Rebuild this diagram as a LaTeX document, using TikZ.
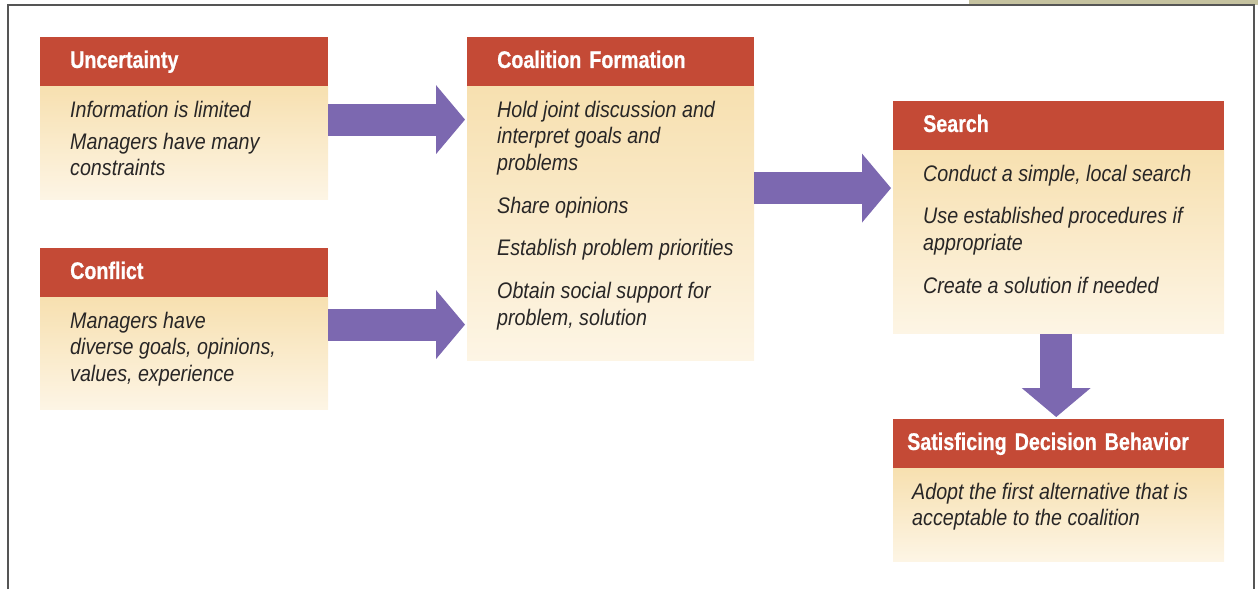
\documentclass[tikz,border=0pt]{standalone}
\usepackage{fontspec}
\setmainfont{Liberation Sans}[FakeStretch=0.875]
\newfontfamily\headfont{Liberation Sans Bold}[FakeStretch=0.82, FakeBold=0.6, WordSpace=0.8]
\usepackage{xcolor}
\usetikzlibrary{arrows.meta,positioning}
\definecolor{hdred}{RGB}{196,74,54}
\definecolor{bodytop}{RGB}{247,224,176}
\definecolor{bodybot}{RGB}{253,245,229}
\definecolor{arrpurple}{RGB}{124,104,176}
\definecolor{txtgray}{RGB}{40,38,38}
\definecolor{framegray}{RGB}{85,85,85}
\definecolor{tanband}{RGB}{197,194,159}

\begin{document}
\begin{tikzpicture}[
  x=1pt, y=-1pt,
  head/.style={rectangle, fill=hdred, anchor=north west, minimum height=49pt,
    inner xsep=30pt, text height=17.5pt, text depth=5pt, align=left,
    text=white, font=\headfont\fontsize{24}{28}\selectfont},
  body/.style={rectangle, inner sep=0pt, top color=bodytop, bottom color=bodybot},
  bodytxt/.style={inner sep=0pt, anchor=north west, align=left, text=txtgray,
    font=\itshape\fontsize{22.5}{26.5}\selectfont},
  fat/.style={draw=arrpurple, line width=32pt, shorten >=2pt,
    -{Triangle[length=29pt, width=69pt, line width=0pt]}}
]
  \useasboundingbox (0,0) rectangle (1258,589);
  % frame
  \fill[tanband] (969,0) rectangle (1258,5);
  \draw[framegray, line width=1.5pt] (8,589) -- (8,5) -- (1254,5) -- (1254,589);

  % boxes
  \node[head, text width=228pt] (unc) at (40,37) {Uncertainty};
  \node[body, minimum width=288pt, minimum height=113pt, below=0pt of unc] (uncBody) {};
  \node[bodytxt, below right=12pt and 30pt of uncBody.north west] (uncText)
    {\strut Information is limited\\[5.5pt] Managers have many\\ constraints};

  \node[head, text width=228pt] (conf) at (40,248) {Conflict};
  \node[body, minimum width=288pt, minimum height=112pt, below=0pt of conf] (confBody) {};
  \node[bodytxt, below right=12pt and 30pt of confBody.north west] (confText)
    {\strut Managers have\\ diverse goals, opinions,\\ values, experience};

  \node[head, text width=227pt] (coal) at (467,37) {Coalition Formation};
  \node[body, minimum width=287pt, minimum height=274pt, below=0pt of coal] (coalBody) {};
  \node[bodytxt, below right=12pt and 30pt of coalBody.north west] (coalText)
    {\strut Hold joint discussion and\\ interpret goals and\\ problems\\[16.5pt]
     Share opinions\\[16pt] Establish problem priorities\\[16.5pt]
     Obtain social support for\\ problem, solution};

  \node[head, text width=271pt] (srch) at (893,101) {Search};
  \node[body, minimum width=331pt, minimum height=183pt, below=0pt of srch] (srchBody) {};
  \node[bodytxt, below right=12pt and 30pt of srchBody.north west] (srchText)
    {\strut Conduct a simple, local search\\[16pt] Use established procedures if\\
     appropriate\\[16.5pt] Create a solution if needed};

  \node[head, text width=303pt, inner xsep=14pt] (sat) at (893,419) {Satisficing Decision Behavior};
  \node[body, minimum width=331pt, minimum height=93pt, below=0pt of sat] (satBody) {};
  \node[bodytxt, below right=12pt and 19pt of satBody.north west] (satText)
    {\strut Adopt the first alternative that is\\ acceptable to the coalition};

  % arrows
  \coordinate (a1) at ([yshift=23.5pt]uncBody.east);
  \coordinate (a2) at ([yshift=29pt]confBody.east);
  \coordinate (a3) at ([yshift=35.5pt]coalBody.east);
  \coordinate (a4) at ([xshift=-2.5pt]srchBody.south);
  \draw[fat] (a1) -- (a1 -| coalBody.west);
  \draw[fat] (a2) -- (a2 -| coalBody.west);
  \draw[fat] (a3) -- (a3 -| srchBody.west);
  \draw[fat] (a4) -- (a4 |- sat.north);
\end{tikzpicture}
\end{document}
